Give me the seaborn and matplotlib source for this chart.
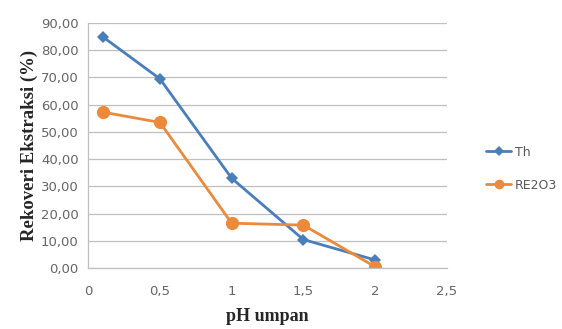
import matplotlib
matplotlib.use("Agg")
import matplotlib.pyplot as plt
import seaborn as sns
import pandas as pd
from matplotlib.ticker import FuncFormatter, MultipleLocator
from matplotlib.lines import Line2D

ph = [0.1, 0.5, 1.0, 1.5, 2.0]
th = [85.0, 69.5, 33.0, 10.5, 3.0]
re2o3 = [57.3, 53.5, 16.5, 15.8, 0.5]
series_names = ["Th", "RE2O3"]

df = pd.DataFrame({
    "pH": ph + ph,
    "val": th + re2o3,
    "series": [series_names[0]] * len(ph) + [series_names[1]] * len(ph),
})

sns.set_style("white")
plt.rcParams['font.family'] = ['DejaVu Sans']

fig = plt.figure(figsize=(5.62, 3.29), dpi=100)
ax = fig.add_axes([0.157, 0.185, 0.638, 0.745])

palette = {"Th": "#4A7EBB", "RE2O3": "#ED8A3A"}
sns.lineplot(data=df, x="pH", y="val", hue="series", style="series",
             markers={"Th": "D", "RE2O3": "o"}, dashes=False,
             palette=palette, linewidth=2.0, ax=ax, legend=False)
for line, ms in zip(ax.lines, [6.5, 9.5]):
    line.set_markersize(ms)
    line.set_markeredgewidth(0)

ax.set_xlim(0, 2.5)
ax.set_ylim(0, 90)
ax.xaxis.set_major_locator(MultipleLocator(0.5))
ax.yaxis.set_major_locator(MultipleLocator(10))
ax.xaxis.set_major_formatter(FuncFormatter(lambda v, p: ("%g" % v).replace(".", ",")))
ax.yaxis.set_major_formatter(FuncFormatter(lambda v, p: ("%.2f" % v).replace(".", ",")))
ax.grid(axis="y", color="#BFBFBF", linewidth=0.9)
ax.grid(axis="x", visible=False)
for s in ["top", "right"]:
    ax.spines[s].set_visible(False)
for s in ["left", "bottom"]:
    ax.spines[s].set_color("#BFBFBF")
    ax.spines[s].set_linewidth(0.9)
ax.tick_params(axis="x", direction="out", length=4, color="#BFBFBF", labelsize=9.5, labelcolor="#666666", pad=8)
ax.tick_params(axis="y", direction="out", length=4, color="#BFBFBF", labelsize=9.5, labelcolor="#666666", pad=3)

ax.set_xlabel("pH umpan", fontsize=13, fontweight="bold", family=["Liberation Serif"], labelpad=7)
ax.set_ylabel("Rekoveri Ekstraksi (%)", fontsize=13.5, fontweight="bold", family=["Liberation Serif"], labelpad=2)

handles = [Line2D([], [], color=palette["Th"], marker="D", markersize=5, linewidth=2.0, markeredgewidth=0),
           Line2D([], [], color=palette["RE2O3"], marker="o", markersize=7, linewidth=2.0, markeredgewidth=0)]
fig.legend(handles, series_names, loc="center left", bbox_to_anchor=(0.845, 0.487),
           frameon=False, fontsize=9, labelcolor="#595959", handlelength=2.0,
           handletextpad=0.3, labelspacing=1.6)

fig.savefig("out.png", dpi=100)
